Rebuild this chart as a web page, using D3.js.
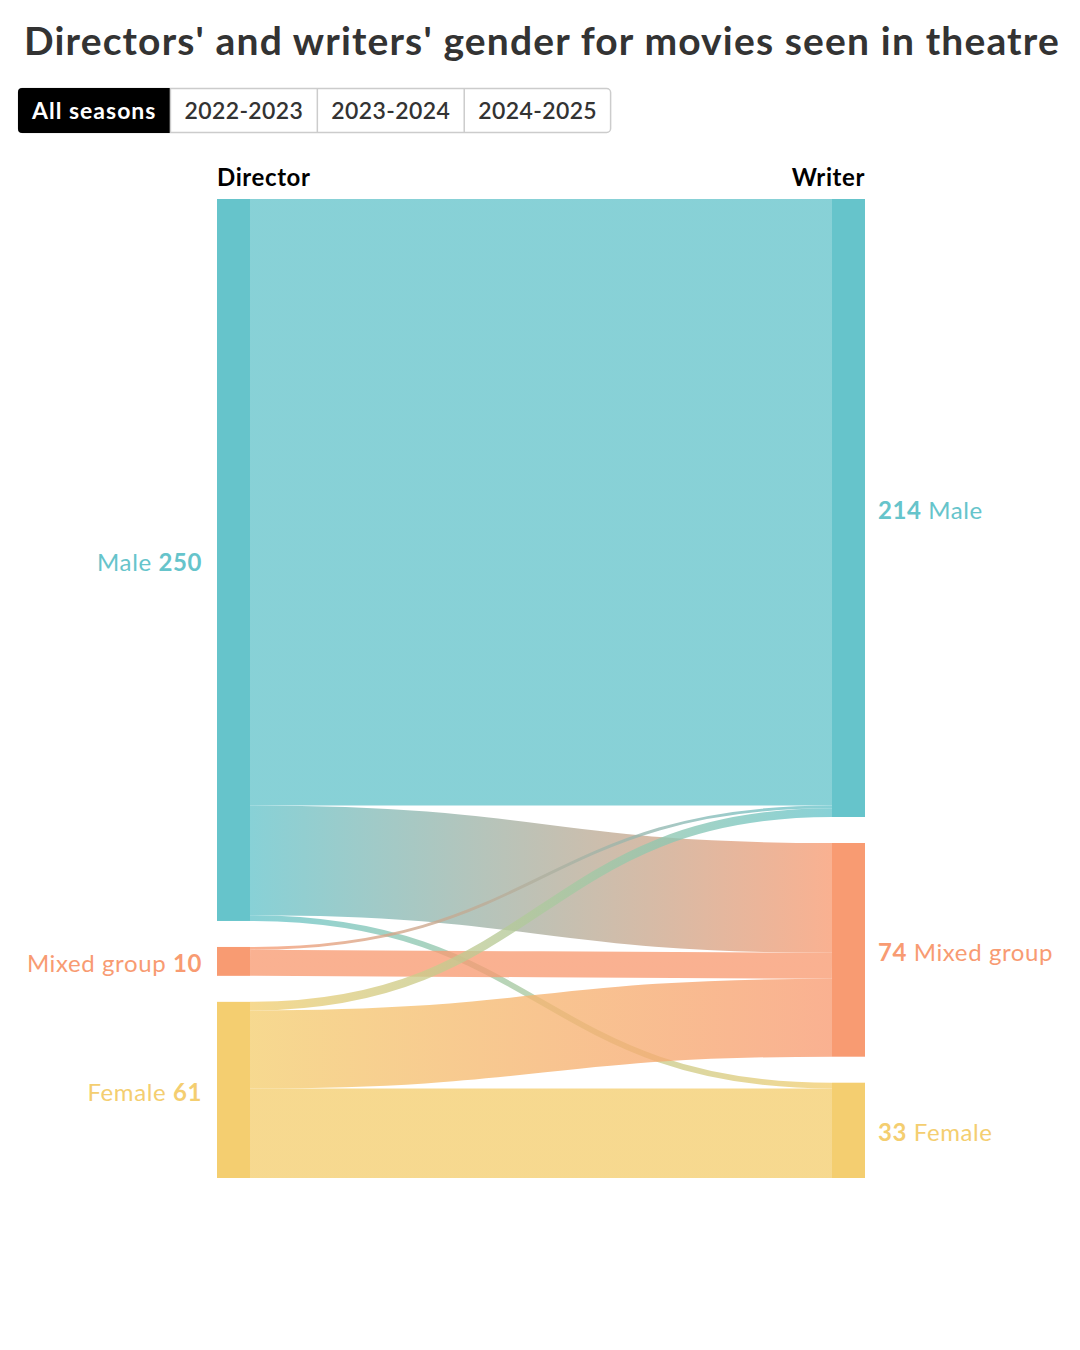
<!DOCTYPE html>
<html>
<head>
<meta charset="utf-8">
<script src="https://cdn.jsdelivr.net/npm/d3@7"></script>
<style>
  body { margin: 0; background: #fff; }
  svg { display: block; font-family: Lato, "Open Sans", sans-serif; }
</style>
</head>
<body>
<svg id="chart" width="1080" height="1350"></svg>
<script>
const seasons = ['All seasons', '2022-2023', '2023-2024', '2024-2025'];
const genders = ['Male', 'Mixed group', 'Female'];
const genderColors = ['#66c4cb', '#f89b72', '#f4ce70'];

// director gender -> writer gender, number of movies
const linkSource = ['Male', 'Male', 'Male', 'Mixed group', 'Mixed group', 'Female', 'Female', 'Female'];
const linkTarget = ['Male', 'Mixed group', 'Female', 'Male', 'Mixed group', 'Male', 'Mixed group', 'Female'];
const linkValue = [210, 38, 2, 1, 9, 3, 27, 31];

const svg = d3.select('#chart');
const color = d3.scaleOrdinal(genders, genderColors);

// title
svg.append('text')
  .attr('x', 24)
  .attr('y', 55)
  .attr('font-size', 39)
  .attr('font-weight', 700)
  .attr('letter-spacing', 1.15)
  .attr('fill', '#333')
  .text("Directors' and writers' gender for movies seen in theatre");

// season buttons
const btnY = 88, btnH = 45, btnPad = 14;
const btns = svg.append('g');
let bx = 18;
const btnPos = [];
seasons.forEach((s, i) => {
  const t = btns.append('text')
    .attr('y', btnY + 31)
    .attr('font-size', 23)
    .attr('letter-spacing', i === 0 ? 1 : 0.4)
    .attr('font-weight', i === 0 ? 700 : 600)
    .attr('fill', i === 0 ? '#fff' : '#333')
    .attr('text-anchor', 'middle')
    .text(s);
  const w = t.node().getComputedTextLength() + btnPad * 2;
  btnPos.push({ x: bx, w, t });
  bx += w;
});
btns.insert('rect', ':first-child')
  .attr('x', 18.5).attr('y', btnY + 0.5)
  .attr('width', bx - 18 - 1).attr('height', btnH - 1)
  .attr('rx', 4)
  .attr('fill', '#fff').attr('stroke', '#ccc').attr('stroke-width', 1.5);
btnPos.forEach((b, i) => {
  b.t.attr('x', b.x + b.w / 2);
  if (i === 0) {
    btns.insert('path', 'text')
      .attr('d', `M${b.x + 4},${btnY}H${b.x + b.w}V${btnY + btnH}H${b.x + 4}a4,4 0 0 1 -4,-4V${btnY + 4}a4,4 0 0 1 4,-4Z`)
      .attr('fill', '#000');
  } else {
    btns.insert('line', 'text')
      .attr('x1', b.x).attr('x2', b.x)
      .attr('y1', btnY).attr('y2', btnY + btnH)
      .attr('stroke', '#ccc').attr('stroke-width', 1.5);
  }
});

// sankey layout (two columns, done by hand)
const topY = 199, bottomY = 1178, nodePad = 26;
const leftX = 217, rightX = 865, nodeW = 33;

const links = linkValue.map((v, i) => ({ source: linkSource[i], target: linkTarget[i], value: v }));
const total = d3.sum(linkValue);
const k = (bottomY - topY - nodePad * (genders.length - 1)) / total;
const h = d3.scaleLinear().domain([0, total]).range([0, total * k]);

function makeNodes(key) {
  const sums = d3.rollup(links, v => d3.sum(v, d => d.value), d => d[key]);
  let y = topY;
  return genders.map(g => {
    const value = sums.get(g) || 0;
    const n = { name: g, value, y0: y, y1: y + h(value) };
    y = n.y1 + nodePad;
    return n;
  });
}
const leftNodes = makeNodes('source');
const rightNodes = makeNodes('target');

leftNodes.forEach(n => {
  let y = n.y0;
  links.filter(l => l.source === n.name)
    .sort((a, b) => genders.indexOf(a.target) - genders.indexOf(b.target))
    .forEach(l => { l.w = h(l.value); l.sy = y + l.w / 2; y += l.w; });
});
rightNodes.forEach(n => {
  let y = n.y0;
  links.filter(l => l.target === n.name)
    .sort((a, b) => genders.indexOf(a.source) - genders.indexOf(b.source))
    .forEach(l => { l.ty = y + l.w / 2; y += l.w; });
});

const x0 = leftX + nodeW, x1 = rightX - nodeW;
const defs = svg.append('defs');
links.forEach((l, i) => {
  const g = defs.append('linearGradient')
    .attr('id', 'grad' + i)
    .attr('gradientUnits', 'userSpaceOnUse')
    .attr('x1', x0).attr('x2', x1);
  g.append('stop').attr('offset', '0%').attr('stop-color', color(l.source));
  g.append('stop').attr('offset', '100%').attr('stop-color', color(l.target));
});

const linkPath = d3.linkHorizontal();
svg.append('g')
  .attr('fill', 'none')
  .attr('stroke-opacity', 0.78)
  .selectAll('path')
  .data(links)
  .join('path')
  .attr('d', l => linkPath({ source: [x0, l.sy], target: [x1, l.ty] }))
  .attr('stroke', (l, i) => `url(#grad${i})`)
  .attr('stroke-width', l => Math.max(1, l.w));

// nodes
svg.append('g').selectAll('rect')
  .data(leftNodes.map(n => ({ ...n, x: leftX })).concat(rightNodes.map(n => ({ ...n, x: rightX - nodeW }))))
  .join('rect')
  .attr('x', d => d.x)
  .attr('y', d => d.y0)
  .attr('width', nodeW)
  .attr('height', d => d.y1 - d.y0)
  .attr('fill', d => color(d.name));

// column headers
svg.append('text')
  .attr('x', leftX).attr('y', 186)
  .attr('font-size', 24).attr('font-weight', 700).attr('letter-spacing', 0.6).attr('fill', '#000')
  .text('Director');
svg.append('text')
  .attr('x', rightX).attr('y', 186)
  .attr('text-anchor', 'end')
  .attr('font-size', 24).attr('font-weight', 700).attr('letter-spacing', 0.6).attr('fill', '#000')
  .text('Writer');

// node labels
const leftLabels = svg.append('g').selectAll('text')
  .data(leftNodes)
  .join('text')
  .attr('x', leftX - 15)
  .attr('y', d => (d.y0 + d.y1) / 2)
  .attr('dy', '0.45em')
  .attr('text-anchor', 'end')
  .attr('font-size', 24)
  .attr('letter-spacing', 0.6)
  .attr('fill', d => color(d.name));
leftLabels.append('tspan').text(d => d.name + ' ');
leftLabels.append('tspan').attr('font-weight', 700).text(d => d.value);

const rightLabels = svg.append('g').selectAll('text')
  .data(rightNodes)
  .join('text')
  .attr('x', rightX + 13)
  .attr('y', d => (d.y0 + d.y1) / 2)
  .attr('dy', '0.45em')
  .attr('font-size', 24)
  .attr('letter-spacing', 0.6)
  .attr('fill', d => color(d.name));
rightLabels.append('tspan').attr('font-weight', 700).text(d => d.value);
rightLabels.append('tspan').text(d => ' ' + d.name);
</script>
</body>
</html>
